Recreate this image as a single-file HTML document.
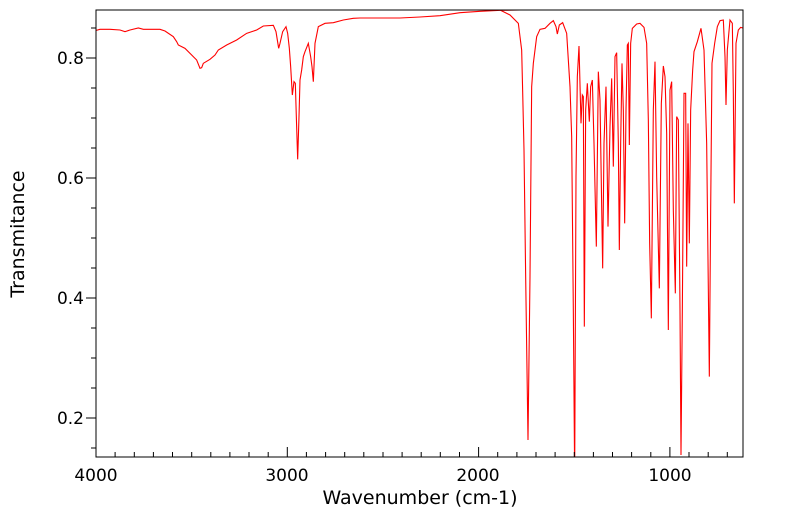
<!DOCTYPE html>
<html><head><style>
html,body{margin:0;padding:0;background:#fff;}
svg{display:block;font-family:"DejaVu Sans","Liberation Sans",sans-serif;}
</style></head><body>
<svg width="799" height="516" viewBox="0 0 799 516" xmlns="http://www.w3.org/2000/svg">
<defs><clipPath id="c"><rect x="96" y="10" width="647" height="447"/></clipPath></defs>
<g clip-path="url(#c)" fill="none" stroke="#ff0000" stroke-width="1.1">
<g transform="translate(60,0) scale(0.33333)">
<polyline vector-effect="non-scaling-stroke" points="105,92 120,88 150,88 180,90 195,95 210,90 235,84 250,88 300,88 315,93 340,110 350,125 355,135 375,145 395,165 410,180 420,205 425,203 430,190 450,178 465,165 475,150 500,135 530,120 560,100 590,90 610,78 640,76 648,95 652,120 656,145 660,130 668,95 678,80 683,100 688,145 692,200 697,285 702,245 706,250 709,350 713,478 717,350 720,240 725,210 730,170 735,155 745,130 752,170 756,200 760,245 765,130 775,80 795,70 820,68 850,60 880,55 900,54 960,54 1020,54 1080,51 1140,47 1200,38 1260,34 1320,31 1380,30 1440,30"/>
</g>
<g transform="translate(500,10) scale(0.33333)">
<polyline vector-effect="non-scaling-stroke" points="0,0 30,15 55,40 65,120 68,245 72,420 77,800 84,1290 90,800 95,230 100,160 110,80 120,58 135,55 150,40 160,32 168,50 172,72 178,45 188,38 200,70 210,230 215,380 220,900 224,1400 228,500 232,200 237,108 243,340 247,255 250,260 253,950 257,300 262,220 268,335 272,230 277,210 282,400 289,710 295,185 300,270 308,775 312,400 318,230 324,650 330,350 335,205 340,470 345,140 350,128 355,400 358,720 362,400 366,160 370,300 374,640 378,300 382,105 385,100 388,405 392,100 397,55 410,42 420,40 432,52 440,100 445,330 449,700 454,925 460,300 465,155 470,500 478,835 484,280 490,168 495,200 500,370 505,960 510,240 515,215 520,600 526,850 530,320 535,330 540,900 543,1335 547,900 552,250 557,250 560,770 564,340 568,700 572,300 578,180 582,125 592,95 603,55 612,120 620,400 628,1100 632,600 636,160 644,100 652,50 660,32 670,30 675,140 678,285 682,120 690,30 697,40 700,250 703,580 708,100 715,60 722,52 732,55"/>
</g>
</g>
<rect x="96" y="10" width="647" height="447" fill="none" stroke="#000" stroke-width="1"/>
<g stroke="#000" stroke-width="1">
<path d="M86,58H96M86,178H96M86,298H96M86,418H96"/>
<path d="M91,28H96M91,88H96M91,118H96M91,148H96M91,208H96M91,238H96M91,268H96M91,328H96M91,358H96M91,388H96M91,448H96"/>
<path d="M96,457V447M287.3,457V447M478.6,457V447M669.9,457V447"/>
<path d="M115.1,457V452M134.3,457V452M153.4,457V452M172.5,457V452M191.7,457V452M210.8,457V452M229.9,457V452M249,457V452M268.2,457V452M306.4,457V452M325.6,457V452M344.7,457V452M363.8,457V452M383,457V452M402.1,457V452M421.2,457V452M440.3,457V452M459.5,457V452M497.7,457V452M516.9,457V452M536,457V452M555.1,457V452M574.3,457V452M593.4,457V452M612.5,457V452M631.6,457V452M650.8,457V452M689,457V452M708.2,457V452M727.3,457V452"/>
</g>
<g font-size="17" fill="#000" text-anchor="end">
<text x="84" y="64">0.8</text>
<text x="84" y="184">0.6</text>
<text x="84" y="304">0.4</text>
<text x="84" y="424">0.2</text>
</g>
<g font-size="17" fill="#000" text-anchor="middle">
<text x="96" y="481">4000</text>
<text x="287" y="481">3000</text>
<text x="478" y="481">2000</text>
<text x="670" y="481">1000</text>
</g>
<g font-size="19" fill="#000" text-anchor="middle">
<text x="420" y="504">Wavenumber (cm-1)</text>
<text transform="translate(24,234) rotate(-90)">Transmitance</text>
</g>
</svg>
</body></html>
